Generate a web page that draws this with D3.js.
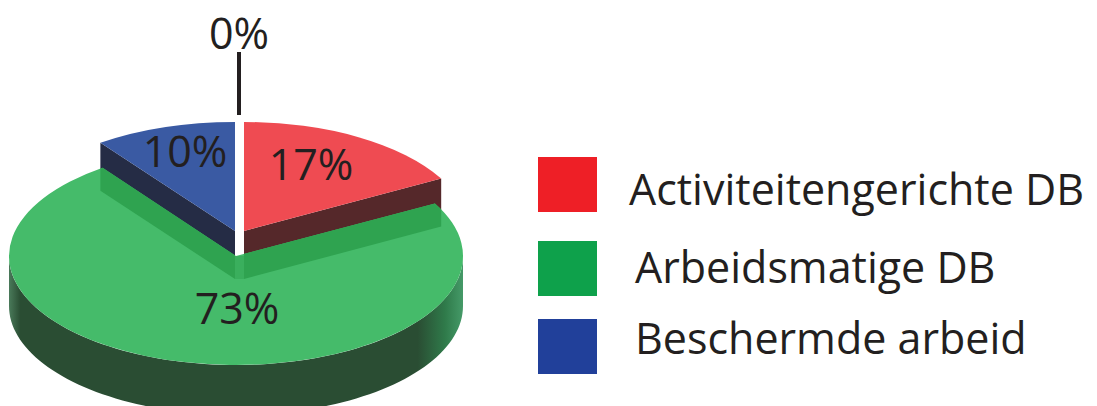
<!DOCTYPE html>
<html>
<head>
<meta charset="utf-8">
<script src="https://cdn.jsdelivr.net/npm/d3@7"></script>
<style>
  html, body { margin: 0; padding: 0; background: #fff; overflow: hidden; }
  text { font-family: "Open Sans", sans-serif; fill: #231f20; }
</style>
</head>
<body>
<svg id="chart" width="1097" height="406"></svg>
<script>
// values
const categories = ["Activiteitengerichte DB", "Arbeidsmatige DB", "Beschermde arbeid", "Overig"];
const percentages = [17, 73, 10, 0];
const legendLabels = categories.slice(0, 3);

const faceColors = ["#ef4b52", "#45bb6a", "#3a5aa3"];
const sideColors = ["#55282a", "#2a4d33", "#252c45"];
const legendColors = ["#ee1f26", "#0ea14b", "#21409a"];

// layout, not data
const ry = 109;
const radii = [225, 227, 229];
const greenCentre = [236, 256];
const wedgeCentres = [[244, 231], [236, 256], [235, 231]];
const wedgeDepth = 25, greenDepth = 50, shadowDepth = 23;
const labelPos = [[311, 180], [237, 324], [185, 167]];
const legendRows = [157, 241, 319];
const legendTextX = [629, 635, 635];
const legendTextY = [205, 283, 354];

let svg = d3.select("#chart");
let defs = svg.append("defs");

let pie = d3.pie().value(d => d).sort(null).startAngle(0).endAngle(2 * Math.PI);
let slices = pie(percentages);

function arcFor(i) {
  return d3.arc().innerRadius(0).outerRadius(radii[i])(slices[i]);
}

function rimPoint(angle, c, r) {
  return [c[0] + r * Math.sin(angle), c[1] - ry * Math.cos(angle)];
}

function wedgeTransform(i) {
  let c = wedgeCentres[i];
  return "translate(" + c[0] + "," + c[1] + ") scale(1," + (ry / radii[i]) + ")";
}

// horizontal shading on the green wall
let gc = greenCentre;
let gr = radii[1];
let grad = defs.append("linearGradient")
  .attr("id", "wallShade")
  .attr("gradientUnits", "userSpaceOnUse")
  .attr("x1", gc[0] - gr).attr("x2", gc[0] + gr)
  .attr("y1", 0).attr("y2", 0);
[[0, "#4a7a5a"], [0.025, "#2a4d33"], [0.9, "#2a4d33"], [0.96, "#2f7a4a"], [1, "#459a68"]].forEach(s => {
  grad.append("stop").attr("offset", s[0]).attr("stop-color", s[1]);
});

// green wall: only the front half, so the gap between the wedges stays white
let wallPts = [[gc[0] - gr, gc[1]]];
d3.range(270, 89, -2).forEach(a => {
  wallPts.push(rimPoint(a * Math.PI / 180, [gc[0], gc[1] + greenDepth], gr));
});
d3.range(90, 271, 2).forEach(a => {
  wallPts.push(rimPoint(a * Math.PI / 180, gc, gr));
});
svg.append("path")
  .attr("d", d3.line()(wallPts) + "Z")
  .attr("fill", "url(#wallShade)");

// side walls of the two pulled out wedges
[0, 2].forEach(i => {
  let d = slices[i];
  let c = wedgeCentres[i];
  let rim = rimPoint(i === 0 ? d.endAngle : d.startAngle, c, radii[i]);
  svg.append("path")
    .attr("d", d3.line()([
      c, rim, [rim[0], rim[1] + wedgeDepth + 11], [c[0], c[1] + wedgeDepth]
    ]))
    .attr("fill", sideColors[i]);
});

// green top face
svg.append("path")
  .attr("d", arcFor(1))
  .attr("transform", wedgeTransform(1))
  .attr("fill", faceColors[1]);

defs.append("clipPath").attr("id", "greenClip")
  .append("path")
  .attr("d", arcFor(1))
  .attr("transform", wedgeTransform(1));

// shadow the wedges drop on the green face
let shadows = svg.append("g").attr("clip-path", "url(#greenClip)");
[0, 2].forEach(i => {
  let d = slices[i];
  let c = wedgeCentres[i];
  let rim = rimPoint(i === 0 ? d.endAngle : d.startAngle, c, radii[i]);
  shadows.append("path")
    .attr("d", d3.line()([
      [c[0], c[1] + wedgeDepth - 4],
      [rim[0], rim[1] + wedgeDepth - 4],
      [rim[0], rim[1] + wedgeDepth + shadowDepth],
      [c[0], c[1] + wedgeDepth + shadowDepth]
    ]))
    .attr("fill", "#2fa350");
});
shadows.append("rect")
  .attr("x", wedgeCentres[2][0]).attr("y", gc[1])
  .attr("width", wedgeCentres[0][0] - wedgeCentres[2][0]).attr("height", shadowDepth)
  .attr("fill", "#3aaf5d");

// top faces of the pulled out wedges
[0, 2].forEach(i => {
  svg.append("path")
    .attr("d", arcFor(i))
    .attr("transform", wedgeTransform(i))
    .attr("fill", faceColors[i]);
});

// value labels
svg.selectAll(".pct")
  .data(percentages.slice(0, 3))
  .enter().append("text")
  .attr("class", "pct")
  .attr("x", (d, i) => labelPos[i][0])
  .attr("y", (d, i) => labelPos[i][1])
  .attr("text-anchor", "middle")
  .style("font-size", "43px")
  .text(d => d + "%");

// the empty slice gets a leader line instead
svg.append("text")
  .attr("x", 239).attr("y", 49)
  .attr("text-anchor", "middle")
  .style("font-size", "43px")
  .text(percentages[3] + "%");
svg.append("line")
  .attr("x1", 239).attr("x2", 239)
  .attr("y1", 52).attr("y2", 115)
  .style("stroke", "#231f20")
  .style("stroke-width", 4);

// legend
svg.selectAll(".swatch")
  .data(legendLabels)
  .enter().append("rect")
  .attr("class", "swatch")
  .attr("x", 538)
  .attr("y", (d, i) => legendRows[i])
  .attr("width", 59).attr("height", 55)
  .attr("fill", (d, i) => legendColors[i]);

svg.selectAll(".legendText")
  .data(legendLabels)
  .enter().append("text")
  .attr("class", "legendText")
  .attr("x", (d, i) => legendTextX[i])
  .attr("y", (d, i) => legendTextY[i])
  .style("font-size", "43px")
  .text(d => d);
</script>
</body>
</html>
